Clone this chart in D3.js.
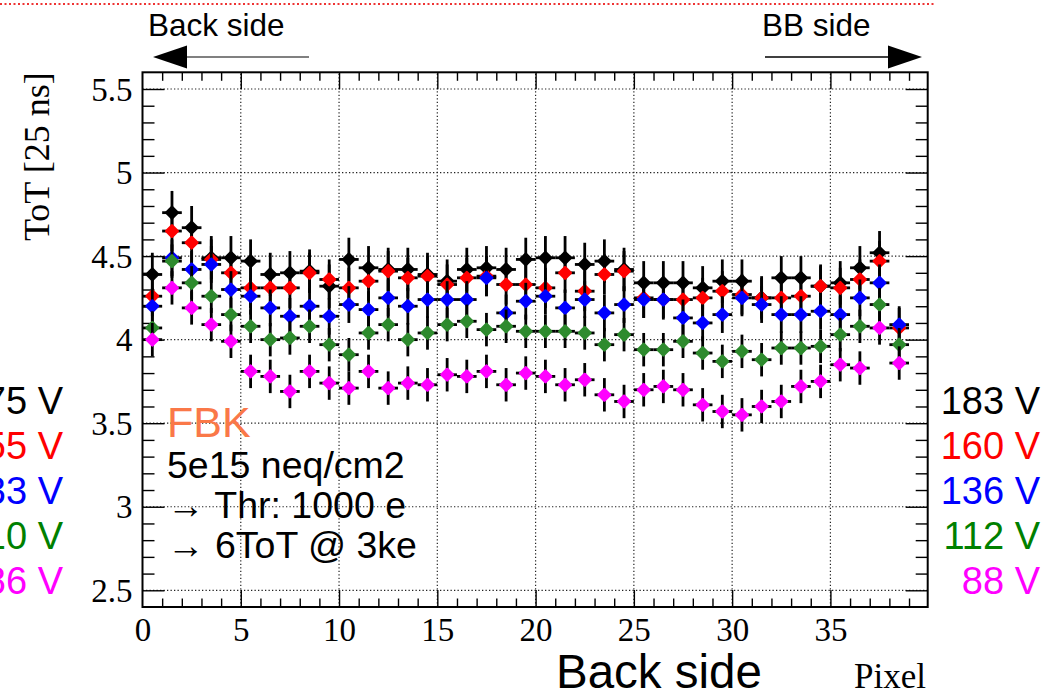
<!DOCTYPE html>
<html>
<head>
<meta charset="utf-8">
<script src="https://cdn.jsdelivr.net/npm/d3@7"></script>
<style>
  html, body { margin: 0; padding: 0; background: #fff; overflow: hidden; }
  svg { display: block; }
</style>
</head>
<body>
<svg id="chart" width="1047" height="694"></svg>
<script>
// Pixel bin centres along the sensor
const pixels = d3.range(39).map(i => i + 0.5);

// Mean ToT per pixel for each bias voltage
const tot183 = [4.39,4.76,4.67,4.49,4.49,4.47,4.39,4.40,4.41,4.32,4.48,4.43,4.42,4.42,4.39,4.35,4.42,4.43,4.42,4.48,4.49,4.49,4.45,4.47,4.42,4.34,4.34,4.34,4.31,4.35,4.35,4.25,4.37,4.37,4.32,4.34,4.43,4.52,null];
const tot160 = [4.26,4.65,4.58,4.48,4.40,4.31,4.31,4.31,4.40,4.36,4.31,4.35,4.41,4.37,4.38,4.33,4.37,4.38,4.33,4.33,4.31,4.40,4.29,4.39,4.41,4.25,4.24,4.24,4.25,4.29,4.27,4.25,4.25,4.26,4.32,4.31,4.36,4.47,4.07];
const tot136 = [4.20,4.49,4.42,4.45,4.30,4.26,4.19,4.14,4.20,4.14,4.21,4.18,4.25,4.20,4.24,4.24,4.24,4.37,4.16,4.23,4.26,4.19,4.24,4.16,4.21,4.24,4.24,4.13,4.10,4.15,4.25,4.21,4.15,4.15,4.17,4.15,4.25,4.34,4.09];
const tot112 = [4.07,4.47,4.34,4.26,4.15,4.08,4.00,4.01,4.08,3.97,3.91,4.04,4.09,4.00,4.04,4.09,4.11,4.06,4.08,4.05,4.05,4.05,4.04,3.97,4.03,3.94,3.94,3.99,3.92,3.87,3.93,3.88,3.95,3.95,3.96,4.03,4.08,4.21,3.97];
const tot88  = [4.00,4.31,4.19,4.09,3.99,3.81,3.78,3.69,3.81,3.74,3.71,3.81,3.71,3.74,3.73,3.79,3.78,3.81,3.73,3.80,3.78,3.73,3.76,3.67,3.63,3.70,3.72,3.70,3.61,3.57,3.55,3.60,3.63,3.72,3.75,3.85,3.83,4.07,3.86];

// Typical statistical uncertainty of each series
const totErr = [0.13, 0.12, 0.11, 0.10, 0.10];

const voltLabels  = ["183 V", "160 V", "136 V", "112 V", "88 V"];
const otherLabels = ["175 V", "155 V", "133 V", "110 V", "86 V"];
const seriesColors = ["#000000", "#ff0000", "#0000ff", "#2e8b2e", "#ff00ff"];
const legendColors = ["#000000", "#ff0000", "#0000ff", "#008000", "#ff00ff"];
const series = [tot183, tot160, tot136, tot112, tot88];

const yTickLabels = [2.5, 3, 3.5, 4, 4.5, 5, 5.5];
const xTickLabels = [0, 5, 10, 15, 20, 25, 30, 35];

const svg = d3.select("#chart");
const serif = "'Liberation Serif', 'DejaVu Serif', serif";
const sans = "'Liberation Sans', Arial, sans-serif";

const x = d3.scaleLinear().domain([0, 39.95]).range([142.5, 927.7]);
const y = d3.scaleLinear().domain([2.4, 5.6]).range([607, 72.3]);
const [x0, x1] = x.range();
const [y0, y1] = y.range();

// red dotted separator at the very top
svg.append("line").attr("x1", 0).attr("x2", 936).attr("y1", 4).attr("y2", 4)
  .attr("stroke", "#e33").attr("stroke-width", 2).attr("stroke-dasharray", "2,2.5");

// grid
const grid = svg.append("g").attr("stroke", "#222").attr("stroke-width", 1.2)
  .attr("stroke-dasharray", "1.3,2.2");
grid.selectAll(".gx").data(xTickLabels.filter(v => v > 0)).join("line")
  .attr("x1", d => x(d)).attr("x2", d => x(d)).attr("y1", y0).attr("y2", y1);
grid.selectAll(".gy").data(yTickLabels).join("line")
  .attr("y1", d => y(d)).attr("y2", d => y(d)).attr("x1", x0).attr("x2", x1);

// axes with ROOT-like major/minor ticks on all four sides
const xMinor = d3.range(1, 40).filter(v => v % 5 !== 0);
const yMinor = d3.range(25, 56).map(v => v / 10).filter(v => Math.round(v * 10) % 5 !== 0);

function tickAxis(axisFn, scale, values, size) {
  return axisFn(scale).tickValues(values).tickSize(size).tickFormat("");
}
const axes = svg.append("g").attr("class", "axes");
function addAxis(gen, tx, ty) {
  const g = axes.append("g").attr("transform", `translate(${tx},${ty})`).call(gen);
  g.select(".domain").remove();
  g.selectAll("line").attr("stroke", "#000").attr("stroke-width", 1.4);
  return g;
}
// bottom / top (inward)
addAxis(tickAxis(d3.axisTop, x, xTickLabels.filter(v => v > 0), 17), 0, y0);
addAxis(tickAxis(d3.axisTop, x, xMinor, 8.5), 0, y0);
addAxis(tickAxis(d3.axisBottom, x, xTickLabels.filter(v => v > 0), 17), 0, y1);
addAxis(tickAxis(d3.axisBottom, x, xMinor, 8.5), 0, y1);
// left / right (inward)
addAxis(tickAxis(d3.axisRight, y, yTickLabels, 22), x0, 0);
addAxis(tickAxis(d3.axisRight, y, yMinor, 12), x0, 0);
addAxis(tickAxis(d3.axisLeft, y, yTickLabels, 22), x1, 0);
addAxis(tickAxis(d3.axisLeft, y, yMinor, 12), x1, 0);

// tick labels
const yLab = d3.axisLeft(y).tickValues(yTickLabels).tickSize(0).tickPadding(10).tickFormat(d3.format("~g"));
const gyl = svg.append("g").attr("transform", `translate(${x0},0)`).call(yLab);
gyl.select(".domain").remove();
gyl.selectAll("text").attr("font-family", serif).attr("font-size", 33).attr("fill", "#000")
  .attr("dy", "0.34em");

const xLab = d3.axisBottom(x).tickValues(xTickLabels).tickSize(0).tickPadding(11).tickFormat(d3.format("d"));
const gxl = svg.append("g").attr("transform", `translate(0,${y0})`).call(xLab);
gxl.select(".domain").remove();
gxl.selectAll("text").attr("font-family", serif).attr("font-size", 33).attr("fill", "#000");

// frame
svg.append("rect").attr("x", x0).attr("y", y1).attr("width", x1 - x0).attr("height", y0 - y1)
  .attr("fill", "none").attr("stroke", "#000").attr("stroke-width", 2);

// axis titles
svg.append("text").attr("transform", `translate(49,${y1}) rotate(-90)`)
  .attr("text-anchor", "end").attr("font-family", serif).attr("font-size", 36)
  .text("ToT [25 ns]");
svg.append("text").attr("x", 926).attr("y", 688).attr("text-anchor", "end")
  .attr("font-family", serif).attr("font-size", 35).text("Pixel");
svg.append("text").attr("x", 556).attr("y", 688).attr("font-family", sans)
  .attr("font-size", 47.5).text("Back side");

// data: black error bars then coloured markers, one series after another
const marker = d3.symbol().type(d3.symbolSquare).size(66);
series.forEach((vals, si) => {
  const pts = pixels.map((p, i) => ({ p, v: vals[i] })).filter(d => d.v != null);
  const g = svg.append("g").attr("class", "series");
  g.selectAll(".ev").data(pts).join("line")
    .attr("x1", d => x(d.p)).attr("x2", d => x(d.p))
    .attr("y1", d => y(d.v - totErr[si])).attr("y2", d => y(d.v + totErr[si]))
    .attr("stroke", "#000").attr("stroke-width", 2.8);
  g.selectAll(".eh").data(pts).join("line")
    .attr("x1", d => x(d.p - 0.5)).attr("x2", d => x(d.p + 0.5))
    .attr("y1", d => y(d.v)).attr("y2", d => y(d.v))
    .attr("stroke", "#000").attr("stroke-width", 2.8);
  g.selectAll(".m").data(pts).join("path")
    .attr("d", marker)
    .attr("transform", d => `translate(${x(d.p)},${y(d.v)}) rotate(45)`)
    .attr("fill", seriesColors[si]).attr("stroke", seriesColors[si])
    .attr("stroke-width", 2.5).attr("stroke-linejoin", "round");
});

// annotation text inside the frame
svg.append("text").attr("x", 167).attr("y", 437).attr("font-family", sans)
  .attr("font-size", 43).attr("fill", "#fa7848").text("FBK");
const notes = ["5e15 neq/cm2", "\u2192 Thr: 1000 e", "\u2192 6ToT @ 3ke"];
svg.selectAll(".note").data(notes).join("text")
  .attr("x", 167).attr("y", (d, i) => 478 + i * 40)
  .attr("font-family", sans).attr("font-size", 37.5).attr("fill", "#000").text(d => d);

// voltage legends on both sides
svg.selectAll(".vr").data(voltLabels).join("text")
  .attr("x", 1040).attr("y", (d, i) => 414 + i * 45).attr("text-anchor", "end")
  .attr("font-family", sans).attr("font-size", 38).attr("fill", (d, i) => legendColors[i]).text(d => d);
svg.selectAll(".vl").data(otherLabels).join("text")
  .attr("x", 63).attr("y", (d, i) => 414 + i * 45).attr("text-anchor", "end")
  .attr("font-family", sans).attr("font-size", 38).attr("fill", (d, i) => legendColors[i]).text(d => d);

// side direction arrows
svg.append("text").attr("x", 148).attr("y", 36).attr("font-family", sans)
  .attr("font-size", 31.5).text("Back side");
svg.append("text").attr("x", 762).attr("y", 36).attr("font-family", sans)
  .attr("font-size", 31.5).text("BB side");
svg.append("line").attr("x1", 186).attr("x2", 309).attr("y1", 57).attr("y2", 57)
  .attr("stroke", "#808080").attr("stroke-width", 2);
svg.append("path").attr("d", d3.line()([[153, 57], [187, 45.5], [187, 68.5]]) + "Z").attr("fill", "#000");
svg.append("line").attr("x1", 765).attr("x2", 890).attr("y1", 57).attr("y2", 57)
  .attr("stroke", "#000").attr("stroke-width", 1.5);
svg.append("path").attr("d", d3.line()([[922, 57], [888, 45.5], [888, 68.5]]) + "Z").attr("fill", "#000");
</script>
</body>
</html>
